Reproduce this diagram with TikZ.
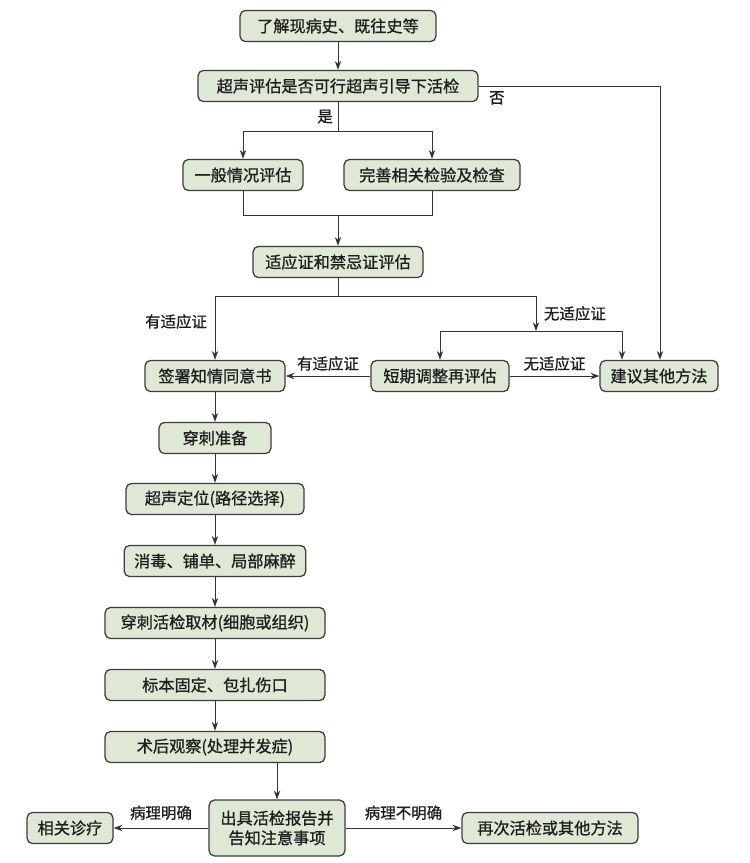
\documentclass[tikz,border=0pt]{standalone}
\usepackage{fontspec}
\setmainfont{Noto Sans CJK SC}[BoldFont={Noto Sans CJK SC}, BoldFeatures={FakeBold=0.9}]
\usetikzlibrary{arrows.meta}

\begin{document}
\begin{tikzpicture}[x=0.025cm, y=-0.025cm]
    % Define colours
    \definecolor{borderColour}{HTML}{3C3C3C}
    \definecolor{fillColour}{HTML}{DEE8D5}
    \definecolor{lineColour}{HTML}{333333}
    \definecolor{textColour}{HTML}{1E1E1E}

    \tikzset{
        stepBox/.style={draw=borderColour, fill=fillColour, rounded corners=4pt,
            line width=0.9pt, minimum height=0.78cm, inner xsep=0.25cm,
            font=\fontsize{11.5}{14}\selectfont\bfseries, text=textColour},
        flowArrow/.style={draw=lineColour, line width=0.7pt, -{Stealth[length=2.2mm, width=1.6mm]}},
        flowLine/.style={draw=lineColour, line width=0.7pt},
        branchLabel/.style={font=\fontsize{11}{13}\selectfont\bfseries, text=textColour}
    }

    % Fix the page size
    \useasboundingbox (0,0) rectangle (750,863);

    % Draw the assessment boxes
    \node[stepBox, minimum width=4.9cm] (history) at (338,26) {了解现病史、既往史等};
    \node[stepBox, minimum width=7.0cm] (feasible) at (338,86) {超声评估是否可行超声引导下活检};
    \node[stepBox, minimum width=3.0cm] (general) at (243,175) {一般情况评估};
    \node[stepBox, minimum width=4.4cm] (tests) at (432,175) {完善相关检验及检查};
    \node[stepBox, minimum width=4.25cm] (indication) at (338,262) {适应证和禁忌证评估};
    \node[stepBox, minimum width=3.5cm] (consent) at (215,376) {签署知情同意书};
    \node[stepBox, minimum width=3.45cm] (adjust) at (440,376) {短期调整再评估};
    \node[stepBox, minimum width=2.95cm] (other) at (659,376) {建议其他方法};

    % Draw the procedure boxes
    \node[stepBox, minimum width=2.8cm] (prepare) at (215,438) {穿刺准备};
    \node[stepBox, minimum width=4.45cm] (locate) at (215,499) {超声定位(路径选择)};
    \node[stepBox, minimum width=4.45cm] (disinfect) at (215,561) {消毒、铺单、局部麻醉};
    \node[stepBox, minimum width=5.5cm] (biopsy) at (215,623) {穿刺活检取材(细胞或组织)};
    \node[stepBox, minimum width=5.5cm] (fixation) at (215,685) {标本固定、包扎伤口};
    \node[stepBox, minimum width=5.5cm] (observe) at (215,747) {术后观察(处理并发症)};
    \node[stepBox, minimum width=3.4cm, minimum height=1.4cm, align=center] (report) at (277,828) {出具活检报告并\\告知注意事项};
    \node[stepBox, minimum width=2.15cm] (treat) at (70,828) {相关诊疗};
    \node[stepBox, minimum width=4.4cm] (retry) at (550,828) {再次活检或其他方法};

    % Define the branch points
    \coordinate (noCorner) at (660,86);
    \coordinate (yesSplit) at (338,131);
    \coordinate (evalMerge) at (338,215);
    \coordinate (indSplit) at (338,296);
    \coordinate (noIndTurn) at (536,296);
    \coordinate (noIndSplit) at (536,331);
    \coordinate (otherIn) at (622,331);

    % Draw the upper connectors
    \draw[flowArrow] (history) -- (feasible);
    \draw[flowArrow] (feasible.east) -- node[branchLabel, pos=0.1, below] {否} (noCorner) -- (noCorner |- other.north);
    \draw[flowLine] (feasible) -- node[branchLabel, left] {是} (yesSplit);
    \draw[flowArrow] (yesSplit) -| (general);
    \draw[flowArrow] (yesSplit) -| (tests);
    \draw[flowLine] (general) |- (evalMerge);
    \draw[flowLine] (tests) |- (evalMerge);
    \draw[flowArrow] (evalMerge) -- (indication);

    % Draw the indication branches
    \draw[flowLine] (indication) -- (indSplit);
    \draw[flowArrow] (indSplit) -| node[branchLabel, pos=0.7, left, xshift=-2pt] {有适应证} (consent);
    \draw[flowArrow] (indSplit) -- (noIndTurn) -- node[branchLabel, right, xshift=2pt] {无适应证} (noIndSplit);
    \draw[flowArrow] (noIndSplit) -| (adjust);
    \draw[flowArrow] (noIndSplit) -- (otherIn) -- (otherIn |- other.north);
    \draw[flowArrow] (adjust) -- node[branchLabel, above] {有适应证} (consent);
    \draw[flowArrow] (adjust) -- node[branchLabel, above] {无适应证} (other);

    % Draw the procedure chain
    \draw[flowArrow] (consent) -- (prepare);
    \draw[flowArrow] (prepare) -- (locate);
    \draw[flowArrow] (locate) -- (disinfect);
    \draw[flowArrow] (disinfect) -- (biopsy);
    \draw[flowArrow] (biopsy) -- (fixation);
    \draw[flowArrow] (fixation) -- (observe);
    \draw[flowArrow] (observe.south -| report) -- (report);

    % Draw the result branches
    \draw[flowArrow] (report) -- node[branchLabel, above, yshift=2pt] {病理明确} (treat);
    \draw[flowArrow] (report) -- node[branchLabel, above, yshift=2pt] {病理不明确} (retry);

\end{tikzpicture}
\end{document}
